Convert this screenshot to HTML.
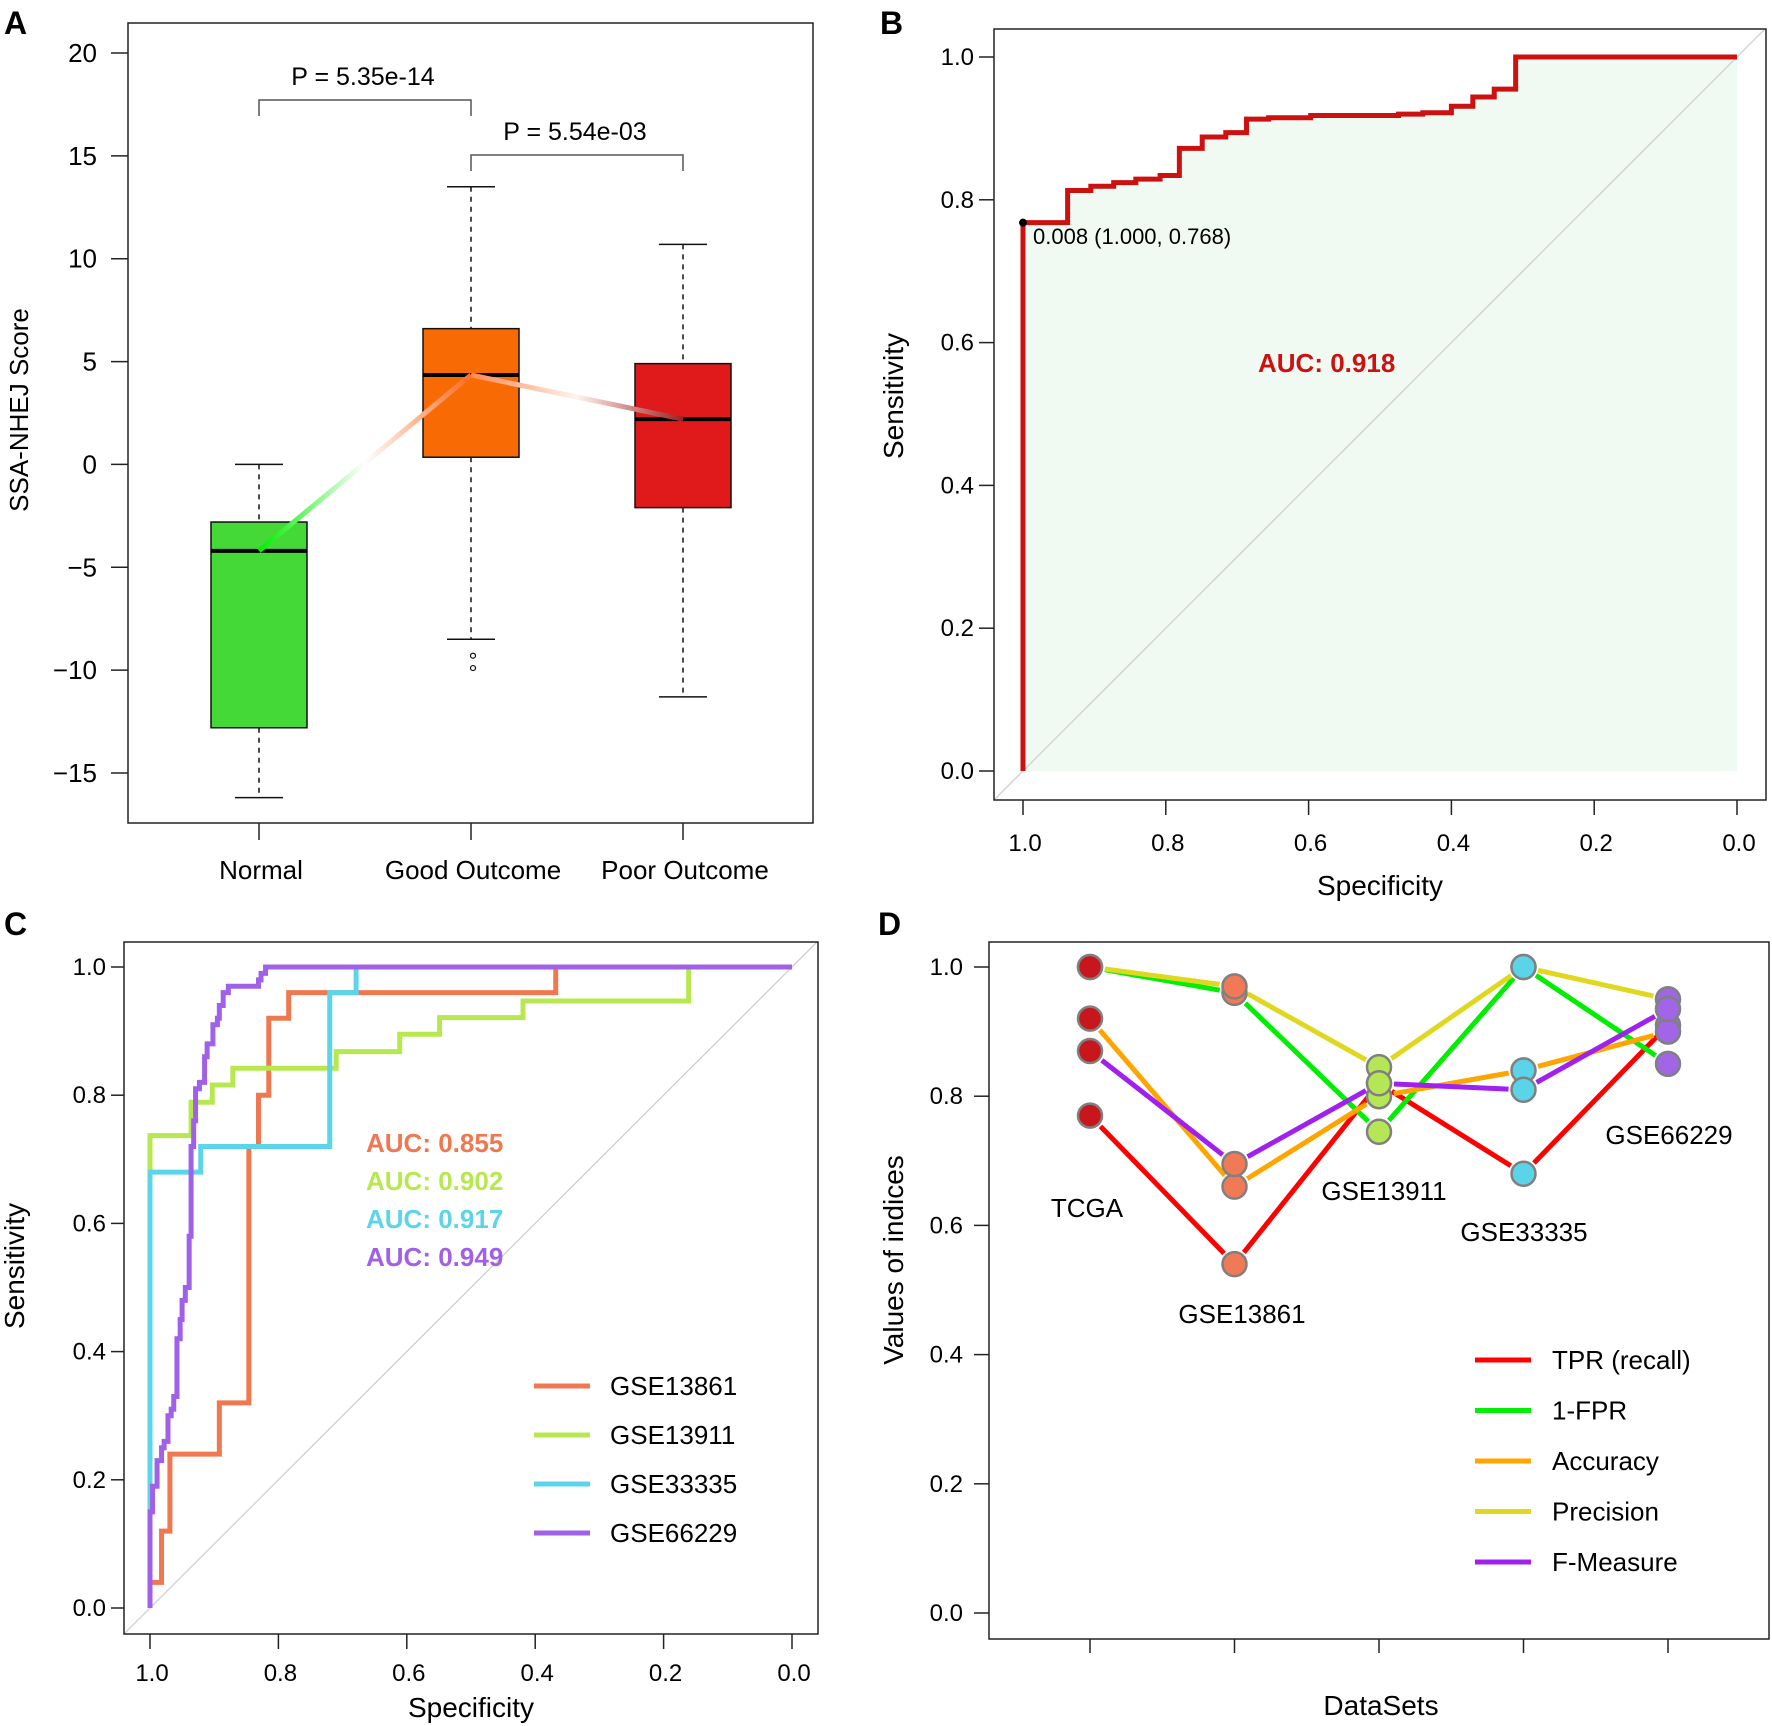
<!DOCTYPE html>
<html><head><meta charset="utf-8"><style>
html,body{margin:0;padding:0;background:#fff}
svg{display:block;font-family:"Liberation Sans",Arial,sans-serif}
</style></head><body>
<svg id="fig" width="1772" height="1726" viewBox="0 0 1772 1726" xmlns="http://www.w3.org/2000/svg">
<defs>
<linearGradient id="g1" gradientUnits="userSpaceOnUse" x1="259" y1="0" x2="471" y2="0">
<stop offset="0" stop-color="#00ee00"/><stop offset="0.5" stop-color="#ffffff"/><stop offset="1" stop-color="#ff6a20"/></linearGradient>
<linearGradient id="g2" gradientUnits="userSpaceOnUse" x1="471" y1="0" x2="683" y2="0">
<stop offset="0" stop-color="#ff8a50"/><stop offset="0.5" stop-color="#fff4f0"/><stop offset="1" stop-color="#a02020"/></linearGradient>
<clipPath id="clipB"><rect x="994" y="29" width="772" height="771"/></clipPath>
<clipPath id="clipC"><rect x="124" y="942" width="694" height="692"/></clipPath>
</defs>
<g id="A"></g>
<g id="B"></g>
<g id="C"></g>
<g id="D"></g>
</svg>
<script>
// ---------- Panel A data ----------
const groupsA = ["Normal","Good Outcome","Poor Outcome"];
const whiskHiA = [0, 13.5, 10.7];
const q3A = [-2.8, 6.6, 4.9];
const medA = [-4.2, 4.35, 2.2];
const q1A = [-12.8, 0.35, -2.1];
const whiskLoA = [-16.2, -8.5, -11.3];
const outliersA = [[], [-9.3, -9.9], []];
const colorsA = ["#44d936","#f86a04","#e01a1a"];
const yTicksA = [20,15,10,5,0,-5,-10,-15];
const yTickLabA = ["20","15","10","5","0","\u22125","\u221210","\u221215"];
const pvalA = ["P = 5.35e-14","P = 5.54e-03"];

// ---------- Panel B data ----------
const specB = [1,1,0.9375,0.905,0.873,0.842,0.808,0.781,0.749,0.716,0.687,0.656,0.597,0.474,0.44,0.40,0.37,0.34,0.31,0];
const sensB = [0,0.768,0.813,0.819,0.824,0.829,0.834,0.872,0.888,0.894,0.913,0.915,0.918,0.920,0.922,0.931,0.944,0.955,1.0,1.0];
const rocTicks = [1.0,0.8,0.6,0.4,0.2,0.0];
const rocTickLab = ["1.0","0.8","0.6","0.4","0.2","0.0"];

// ---------- Panel C data ----------
const namesC = ["GSE13861","GSE13911","GSE33335","GSE66229"];
const colorsC = ["#f07850","#b8e850","#5cd4ea","#a060e8"];
const aucC = ["AUC: 0.855","AUC: 0.902","AUC: 0.917","AUC: 0.949"];
const spec13861 = [1,1,0.982,0.982,0.969,0.969,0.892,0.892,0.846,0.846,0.831,0.831,0.815,0.815,0.784,0.784,0.368,0.368,0];
const sens13861 = [0,0.04,0.04,0.12,0.12,0.24,0.24,0.32,0.32,0.72,0.72,0.80,0.80,0.92,0.92,0.96,0.96,1,1];
const spec13911 = [1,1,0.936,0.936,0.903,0.903,0.871,0.871,0.71,0.71,0.611,0.611,0.549,0.549,0.419,0.419,0.161,0.161,0];
const sens13911 = [0,0.737,0.737,0.789,0.789,0.816,0.816,0.842,0.842,0.868,0.868,0.895,0.895,0.921,0.921,0.947,0.947,1,1];
const spec33335 = [1,1,0.921,0.921,0.72,0.72,0.679,0.679,0];
const sens33335 = [0,0.68,0.68,0.72,0.72,0.96,0.96,1,1];
const spec66229 = [1,1,0.996,0.996,0.989,0.989,0.982,0.982,0.978,0.978,0.972,0.972,0.967,0.967,0.963,0.963,0.958,0.958,0.953,0.953,0.95,0.95,0.945,0.945,0.939,0.939,0.936,0.936,0.932,0.932,0.929,0.929,0.923,0.923,0.915,0.915,0.911,0.911,0.902,0.902,0.895,0.895,0.892,0.892,0.886,0.886,0.878,0.878,0.831,0.831,0.827,0.827,0.82,0.82,0];
const sens66229 = [0,0.15,0.15,0.19,0.19,0.23,0.23,0.25,0.25,0.26,0.26,0.30,0.30,0.31,0.31,0.33,0.33,0.42,0.42,0.45,0.45,0.48,0.48,0.50,0.50,0.58,0.58,0.72,0.72,0.76,0.76,0.81,0.81,0.82,0.82,0.86,0.86,0.88,0.88,0.91,0.91,0.92,0.92,0.94,0.94,0.96,0.96,0.97,0.97,0.98,0.98,0.99,0.99,1,1];

// ---------- Panel D data ----------
const datasetsD = ["TCGA","GSE13861","GSE13911","GSE33335","GSE66229"];
const dotColorsD = ["#c8171c","#f07a55","#b5e655","#5bd3e8","#a066e6"];
const metricsD = ["TPR (recall)","1-FPR","Accuracy","Precision","F-Measure"];
const lineColorsD = ["#ff0000","#00ee00","#ffa500","#e0d820","#a020f0"];
const tprD = [0.77,0.54,0.82,0.68,0.91];
const tnrD = [1.0,0.96,0.745,1.0,0.85];
const accD = [0.92,0.66,0.80,0.84,0.90];
const precD = [1.0,0.97,0.845,1.0,0.95];
const fmD = [0.87,0.695,0.82,0.81,0.935];
const yTicksD = [0,0.2,0.4,0.6,0.8,1.0];
const yTickLabD = ["0.0","0.2","0.4","0.6","0.8","1.0"];

const NS="http://www.w3.org/2000/svg";
function mk(parent, tag, attrs, text){
  const e=document.createElementNS(NS,tag);
  for(const k in attrs) e.setAttribute(k,attrs[k]);
  if(text!==undefined) e.textContent=text;
  parent.appendChild(e); return e;
}

// ===== Panel A =====
(function(){
  const g=document.getElementById('A');
  const xA=i=>259+i*212;
  const yA=v=>53+(20-v)*(720/35);
  let e=mk(g,'text',{x:4,y:34,'font-size':32,'font-weight':'bold'},'A');
   
  e=mk(g,'rect',{x:128,y:23,width:685,height:800,fill:'none',stroke:'#222','stroke-width':1.5});
   
  yTicksA.forEach((t,i)=>{
    const y=yA(t);
    let l=mk(g,'line',{x1:111,x2:128,y1:y,y2:y,stroke:'#222','stroke-width':1.5});
     
    let tx=mk(g,'text',{x:97,y:y+9,'font-size':26,'text-anchor':'end'},yTickLabA[i]);
     
  });
  e=mk(g,'text',{x:0,y:0,'font-size':26,'text-anchor':'middle',transform:'translate(28,410) rotate(-90)'},'SSA-NHEJ Score');
   
  groupsA.forEach((n,i)=>{
    const x=xA(i);
    let l=mk(g,'line',{x1:x,x2:x,y1:823,y2:840,stroke:'#222','stroke-width':1.5});
     
    let t=mk(g,'text',{x:x+2,y:879,'font-size':26,'text-anchor':'middle'},n);
     
    let w=mk(g,'line',{x1:x,x2:x,y1:yA(whiskHiA[i]),y2:yA(q3A[i]),stroke:'#111','stroke-width':1.5,'stroke-dasharray':'5,5'});
     
    w=mk(g,'line',{x1:x,x2:x,y1:yA(q1A[i]),y2:yA(whiskLoA[i]),stroke:'#111','stroke-width':1.5,'stroke-dasharray':'5,5'});
     
    [whiskHiA[i],whiskLoA[i]].forEach(v=>{
      let c=mk(g,'line',{x1:x-24,x2:x+24,y1:yA(v),y2:yA(v),stroke:'#111','stroke-width':1.5});
       
    });
    let b=mk(g,'rect',{x:x-48,y:yA(q3A[i]),width:96,height:yA(q1A[i])-yA(q3A[i]),fill:colorsA[i],stroke:'#111','stroke-width':1.5});
     
    let m=mk(g,'line',{x1:x-48,x2:x+48,y1:yA(medA[i]),y2:yA(medA[i]),stroke:'#000','stroke-width':4});
     
    outliersA[i].forEach(v=>{
      let o=mk(g,'circle',{cx:x+2,cy:yA(v),r:2.5,fill:'none',stroke:'#111','stroke-width':1.2});
       
    });
  });
  let t1=mk(g,'line',{x1:xA(0),y1:yA(medA[0]),x2:xA(1),y2:yA(medA[1]),stroke:'url(#g1)','stroke-width':5});
   
  let t2=mk(g,'line',{x1:xA(1),y1:yA(medA[1]),x2:xA(2),y2:yA(medA[2]),stroke:'url(#g2)','stroke-width':5});
   
  const br=[[0,1,100,116,76],[1,2,155,171,131]];
  br.forEach((b,k)=>{
    let p=mk(g,'path',{d:`M${xA(b[0])},${b[3]}V${b[2]}H${xA(b[1])}V${b[3]}`,fill:'none',stroke:'#555','stroke-width':1.5});
     
    let t=mk(g,'text',{x:(xA(b[0])+xA(b[1]))/2-2,y:b[4]+9,'font-size':25,'text-anchor':'middle'},pvalA[k]);
     
  });
})();

// ===== ROC axes helper =====
function rocAxes(g,box,x1,x0,y1,y0,letter,lx,ly,ytx,ytickx0,xtly,xtitleY,ytitleX,ytitleY){
  let e=mk(g,'text',{x:lx,y:ly,'font-size':32,'font-weight':'bold'},letter);
   
  const X=s=>x0+(x1-x0)*s, Y=v=>y0-(y0-y1)*v;
  rocTicks.forEach((t,i)=>{
    let l=mk(g,'line',{x1:ytickx0,x2:box[0],y1:Y(t),y2:Y(t),stroke:'#222','stroke-width':1.5});
     
    let tx=mk(g,'text',{x:ytx,y:Y(t)+8,'font-size':24,'text-anchor':'end'},rocTickLab[i]);
     
    l=mk(g,'line',{x1:X(t),x2:X(t),y1:box[3],y2:box[3]+15,stroke:'#222','stroke-width':1.5});
     
    tx=mk(g,'text',{x:X(t)+2,y:xtly,'font-size':24,'text-anchor':'middle'},rocTickLab[i]);
     
  });
  e=mk(g,'text',{x:(box[0]+box[2])/2,y:xtitleY,'font-size':28,'text-anchor':'middle'},'Specificity');
   
  e=mk(g,'text',{x:0,y:0,'font-size':28,'text-anchor':'middle',transform:`translate(${ytitleX},${ytitleY}) rotate(-90)`},'Sensitivity');
   
  return [X,Y];
}
function stepPath(X,Y,sp,se){
  let d=`M${X(sp[0])},${Y(se[0])}`;
  for(let i=1;i<sp.length;i++){ d+=`H${X(sp[i])}V${Y(se[i])}`; }
  return d;
}

// ===== Panel B =====
(function(){
  const g=document.getElementById('B');
  const box=[994,29,1766,800];
  const [X,Y]=rocAxes(g,box,1023,1737,57,771,'B',880,34,974,979,851,895,903,396);
  let f=mk(g,'path',{d:stepPath(X,Y,specB,sensB)+`V${Y(0)}H${X(1)}Z`,fill:'#f0faf3',stroke:'none'});
   
  let dg=mk(g,'line',{x1:X(1.05),y1:Y(-0.05),x2:X(-0.05),y2:Y(1.05),stroke:'#cccccc','stroke-width':1.2,'clip-path':'url(#clipB)'});
   
  let c=mk(g,'path',{d:stepPath(X,Y,specB,sensB),fill:'none',stroke:'#cc1111','stroke-width':5});
   
  let fr=mk(g,'rect',{x:box[0],y:box[1],width:box[2]-box[0],height:box[3]-box[1],fill:'none',stroke:'#222','stroke-width':1.5});
   
  let p=mk(g,'circle',{cx:X(1),cy:Y(0.768),r:4,fill:'#000'});
   
  let t=mk(g,'text',{x:1033,y:244,'font-size':22},'0.008 (1.000, 0.768)');
   
  t=mk(g,'text',{x:1258,y:372,'font-size':26,'font-weight':'bold',fill:'#cc1111'},'AUC: 0.918');
   
})();

// ===== Panel C =====
(function(){
  const g=document.getElementById('C');
  const box=[124,942,818,1634];
  const [X,Y]=rocAxes(g,box,150,792,967,1608,'C',4,935,106,111,1681,1717,24,1266);
  let dg=mk(g,'line',{x1:X(1.05),y1:Y(-0.05),x2:X(-0.05),y2:Y(1.05),stroke:'#cccccc','stroke-width':1.2,'clip-path':'url(#clipC)'});
   
  const specs=[spec13861,spec13911,spec33335,spec66229];
  const senss=[sens13861,sens13911,sens33335,sens66229];
  for(let i=0;i<4;i++){
    let d=`M${X(specs[i][0])},${Y(senss[i][0])}`;
    for(let k=1;k<specs[i].length;k++) d+=`L${X(specs[i][k])},${Y(senss[i][k])}`;
    let c=mk(g,'path',{d:d,fill:'none',stroke:colorsC[i],'stroke-width':5});
     
  }
  let fr=mk(g,'rect',{x:box[0],y:box[1],width:box[2]-box[0],height:box[3]-box[1],fill:'none',stroke:'#222','stroke-width':1.5});
   
  aucC.forEach((a,i)=>{
    let t=mk(g,'text',{x:366,y:1152+i*38,'font-size':26,'font-weight':'bold',fill:colorsC[i]},a);
     
  });
  namesC.forEach((n,i)=>{
    const y=1386+i*49;
    let l=mk(g,'line',{x1:534,x2:590,y1:y,y2:y,stroke:colorsC[i],'stroke-width':5});
     
    let t=mk(g,'text',{x:610,y:y+9,'font-size':26},n);
     
  });
})();

// ===== Panel D =====
(function(){
  const g=document.getElementById('D');
  const box=[989,942,1769,1639];
  const X=i=>1090+i*144.5, Y=v=>1613-(1613-967)*v;
  let e=mk(g,'text',{x:878,y:935,'font-size':32,'font-weight':'bold'},'D');
   
  e=mk(g,'rect',{x:box[0],y:box[1],width:box[2]-box[0],height:box[3]-box[1],fill:'none',stroke:'#222','stroke-width':1.5});
   
  yTicksD.forEach((t,i)=>{
    let l=mk(g,'line',{x1:974,x2:989,y1:Y(t),y2:Y(t),stroke:'#222','stroke-width':1.5});
     
    let tx=mk(g,'text',{x:963,y:Y(t)+8,'font-size':24,'text-anchor':'end'},yTickLabD[i]);
     
  });
  datasetsD.forEach((d,i)=>{
    let l=mk(g,'line',{x1:X(i),x2:X(i),y1:1639,y2:1653,stroke:'#222','stroke-width':1.5});
     
  });
  e=mk(g,'text',{x:1381,y:1715,'font-size':28,'text-anchor':'middle'},'DataSets');
   
  e=mk(g,'text',{x:0,y:0,'font-size':28,'text-anchor':'middle',transform:'translate(903,1260) rotate(-90)'},'Values of indices');
   
  const series=[tprD,tnrD,accD,precD,fmD];
  const gap=15;
  series.forEach((s,k)=>{
    for(let i=0;i<s.length-1;i++){
      const xa=X(i),ya=Y(s[i]),xb=X(i+1),yb=Y(s[i+1]);
      const L=Math.hypot(xb-xa,yb-ya), ux=(xb-xa)/L, uy=(yb-ya)/L;
      let l=mk(g,'line',{x1:xa+ux*gap,y1:ya+uy*gap,x2:xb-ux*gap,y2:yb-uy*gap,stroke:lineColorsD[k],'stroke-width':5});
       
    }
  });
  series.forEach((s,k)=>{
    s.forEach((v,i)=>{
      let c=mk(g,'circle',{cx:X(i),cy:Y(v),r:12,fill:dotColorsD[i],stroke:'#808080','stroke-width':2.5});
       
    });
  });
  const labPos=[[1087,1217],[1242,1323],[1384,1200],[1524,1241],[1669,1144]];
  datasetsD.forEach((d,i)=>{
    let t=mk(g,'text',{x:labPos[i][0],y:labPos[i][1],'font-size':26,'text-anchor':'middle'},d);
     
  });
  metricsD.forEach((m,i)=>{
    const y=1360+i*50.5;
    let l=mk(g,'line',{x1:1475,x2:1531,y1:y,y2:y,stroke:lineColorsD[i],'stroke-width':5});
     
    let t=mk(g,'text',{x:1552,y:y+9,'font-size':26},m);
     
  });
})();
</script>
</body></html>
